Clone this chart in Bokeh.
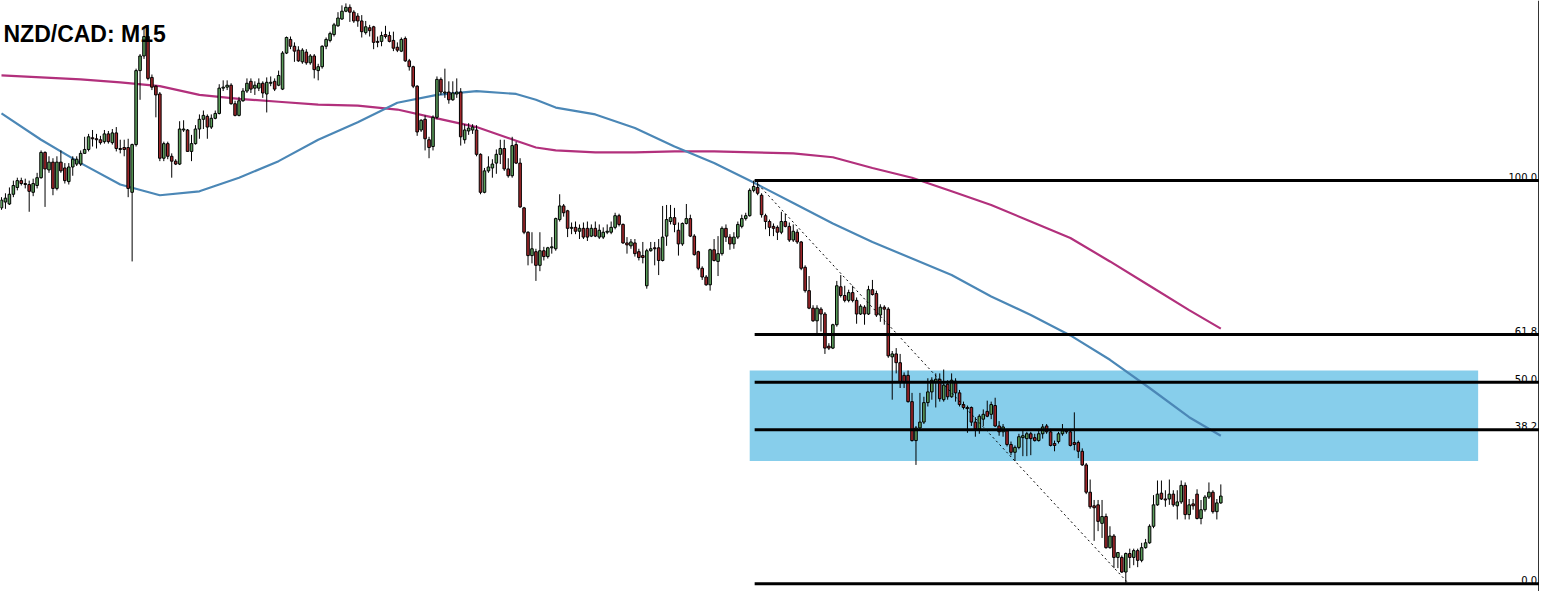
from bokeh.plotting import figure
from bokeh.models import Range1d, ColumnDataSource
from bokeh.core.properties import value
from bokeh.embed import file_html
from bokeh.resources import INLINE

# NZD/CAD M15 candles, prices in points (1 point = 0.2 pip above 0.90800)
opens = [
    387, 393, 391, 401, 408, 415, 412, 411, 403, 410,
    418, 444, 426, 434, 407, 434, 428, 414, 429, 432,
    432, 443, 447, 459, 458, 457, 455, 463, 454, 464,
    448, 449, 449, 403, 452, 528, 543, 563, 521, 512,
    504, 438, 453, 440, 435, 432, 467, 467, 445, 453,
    468, 478, 481, 470, 479, 484, 510, 511, 513, 494,
    482, 497, 507, 517, 510, 510, 515, 504, 515, 517,
    513, 509, 546, 560, 553, 549, 537, 547, 536, 543,
    528, 532, 553, 559, 565, 574, 581, 589, 593, 588,
    584, 579, 567, 572, 573, 558, 558, 565, 564, 559,
    552, 548, 561, 538, 532, 512, 467, 478, 457, 450,
    480, 519, 505, 506, 498, 504, 506, 457, 466, 467,
    467, 442, 403, 425, 428, 433, 442, 448, 427, 420,
    452, 433, 387, 362, 338, 342, 328, 343, 337, 346,
    345, 375, 389, 384, 366, 367, 363, 366, 366, 358,
    366, 357, 357, 362, 362, 367, 379, 370, 351, 348,
    351, 342, 338, 307, 343, 346, 346, 333, 358, 373,
    377, 364, 350, 371, 376, 358, 342, 325, 316, 308,
    344, 332, 340, 366, 357, 350, 357, 368, 376, 379,
    405, 408, 400, 379, 373, 368, 367, 362, 373, 368,
    354, 362, 352, 326, 302, 284, 271, 283, 278, 245,
    243, 267, 306, 297, 292, 300, 292, 278, 285, 278,
    303, 299, 277, 285, 283, 234, 237, 228, 215, 215,
    188, 148, 161, 167, 187, 198, 208, 211, 190, 206,
    193, 209, 197, 185, 182, 182, 167, 160, 170, 178,
    175, 184, 163, 157, 158, 144, 136, 141, 151, 150,
    155, 151, 148, 155, 163, 157, 145, 147, 155, 158,
    157, 146, 146, 137, 123, 95, 81, 82, 63, 70,
    38, 50, 28, 28, 13, 32, 28, 35, 25, 38,
    43, 60, 82, 94, 88, 88, 93, 81, 85, 102,
    72, 83, 93, 68, 77, 90, 95, 75, 84,
]
highs = [
    398, 402, 408, 415, 418, 418, 417, 415, 417, 423,
    446, 445, 440, 438, 440, 446, 433, 433, 440, 440,
    446, 460, 463, 467, 463, 461, 467, 466, 468, 470,
    457, 457, 458, 453, 530, 545, 573, 572, 524, 513,
    506, 455, 455, 443, 437, 476, 477, 468, 462, 472,
    483, 487, 483, 483, 487, 514, 518, 518, 515, 497,
    501, 510, 520, 520, 517, 520, 517, 521, 522, 520,
    528, 548, 563, 563, 557, 553, 551, 550, 545, 545,
    535, 554, 562, 568, 577, 588, 595, 597, 596, 590,
    587, 585, 579, 575, 574, 563, 568, 574, 568, 568,
    557, 562, 563, 540, 533, 513, 478, 482, 460, 482,
    522, 521, 530, 517, 517, 520, 510, 473, 474, 473,
    472, 443, 428, 440, 437, 447, 457, 457, 438, 460,
    455, 438, 388, 363, 362, 345, 362, 347, 347, 357,
    377, 401, 391, 385, 372, 373, 370, 372, 373, 370,
    373, 370, 367, 370, 373, 382, 381, 371, 357, 355,
    355, 345, 352, 345, 352, 352, 355, 389, 390, 390,
    387, 372, 372, 391, 380, 360, 343, 327, 318, 345,
    355, 358, 368, 370, 360, 362, 373, 380, 382, 407,
    415, 415, 402, 381, 375, 371, 369, 383, 381, 372,
    370, 365, 353, 328, 317, 287, 287, 285, 280, 248,
    268, 312, 318, 307, 303, 307, 295, 288, 287, 307,
    313, 302, 288, 287, 285, 240, 243, 237, 218, 220,
    197, 163, 197, 193, 212, 213, 217, 217, 221, 210,
    217, 212, 200, 188, 184, 183, 172, 175, 180, 189,
    188, 192, 168, 165, 160, 147, 143, 155, 158, 157,
    157, 155, 160, 165, 165, 160, 148, 157, 165, 160,
    160, 177, 148, 140, 125, 108, 87, 87, 87, 73,
    60, 52, 33, 30, 33, 37, 37, 37, 43, 47,
    62, 92, 107, 107, 97, 108, 97, 97, 107, 105,
    88, 88, 98, 87, 92, 105, 97, 88, 103,
]
lows = [
    385, 386, 390, 398, 405, 410, 407, 383, 399, 407,
    417, 388, 423, 400, 405, 423, 412, 411, 420, 430,
    430, 443, 445, 450, 448, 452, 453, 453, 452, 445,
    443, 440, 398, 332, 450, 498, 540, 518, 508, 480,
    435, 435, 437, 418, 431, 431, 465, 445, 435, 452,
    458, 468, 458, 468, 478, 483, 507, 508, 493, 481,
    481, 496, 505, 505, 503, 507, 500, 485, 512, 507,
    512, 508, 545, 550, 537, 537, 535, 534, 534, 520,
    518, 530, 550, 557, 563, 573, 580, 588, 578, 577,
    573, 562, 565, 563, 550, 552, 553, 561, 557, 548,
    547, 547, 537, 528, 510, 461, 465, 446, 438, 446,
    478, 503, 500, 494, 497, 500, 451, 453, 462, 463,
    440, 401, 402, 423, 418, 422, 432, 425, 418, 418,
    432, 387, 360, 328, 330, 312, 322, 333, 335, 340,
    343, 373, 378, 357, 360, 360, 355, 355, 353, 357,
    357, 355, 355, 360, 360, 365, 368, 350, 340, 345,
    337, 333, 330, 304, 342, 328, 318, 332, 348, 370,
    362, 338, 348, 370, 357, 338, 323, 313, 307, 302,
    332, 317, 338, 352, 344, 345, 355, 366, 374, 378,
    403, 400, 377, 365, 358, 358, 354, 360, 367, 352,
    352, 350, 323, 300, 283, 270, 258, 260, 237, 241,
    242, 265, 295, 290, 290, 290, 268, 277, 267, 277,
    297, 275, 270, 267, 233, 190, 217, 202, 202, 187,
    147, 123, 158, 165, 183, 190, 182, 188, 188, 190,
    192, 188, 183, 180, 156, 163, 152, 155, 163, 172,
    170, 162, 153, 152, 142, 133, 127, 139, 132, 132,
    133, 147, 147, 150, 155, 142, 137, 145, 153, 155,
    142, 138, 130, 122, 93, 78, 45, 55, 48, 37,
    37, 17, 17, 12, 1, 17, 20, 18, 23, 37,
    42, 58, 81, 87, 80, 82, 80, 67, 83, 67,
    67, 77, 67, 62, 75, 88, 73, 67, 83,
]
closes = [
    395, 397, 401, 410, 415, 412, 411, 404, 412, 418,
    444, 427, 434, 407, 434, 425, 415, 429, 437, 437,
    443, 447, 460, 458, 457, 454, 463, 455, 464, 448,
    447, 447, 407, 452, 528, 543, 563, 520, 511, 503,
    438, 453, 440, 435, 432, 468, 468, 445, 453, 468,
    478, 482, 470, 479, 484, 510, 511, 513, 494, 482,
    497, 507, 515, 509, 513, 515, 505, 516, 516, 509,
    523, 546, 562, 553, 548, 538, 549, 536, 543, 529,
    532, 553, 560, 566, 575, 582, 589, 593, 588, 579,
    579, 568, 573, 569, 557, 557, 564, 563, 558, 551,
    549, 560, 538, 532, 512, 465, 477, 458, 449, 480,
    519, 506, 505, 498, 505, 506, 460, 467, 469, 470,
    442, 403, 425, 429, 432, 442, 448, 427, 420, 451,
    433, 388, 362, 338, 345, 328, 343, 337, 346, 347,
    376, 389, 382, 366, 367, 363, 366, 357, 357, 366,
    358, 364, 362, 363, 367, 379, 370, 351, 349, 352,
    340, 336, 336, 343, 345, 345, 333, 357, 375, 377,
    370, 350, 371, 376, 358, 339, 325, 316, 308, 344,
    333, 340, 366, 357, 350, 357, 370, 376, 379, 405,
    409, 402, 380, 373, 367, 366, 362, 373, 368, 354,
    363, 352, 325, 302, 284, 271, 284, 278, 243, 243,
    267, 307, 297, 292, 300, 292, 278, 286, 278, 303,
    298, 277, 285, 283, 235, 237, 228, 208, 208, 188,
    148, 161, 167, 187, 198, 210, 211, 191, 205, 193,
    210, 197, 185, 182, 181, 167, 160, 173, 175, 173,
    185, 163, 157, 162, 144, 136, 141, 152, 153, 155,
    150, 148, 155, 162, 157, 143, 143, 155, 158, 157,
    143, 144, 137, 123, 95, 80, 79, 65, 70, 38,
    50, 28, 33, 13, 32, 28, 35, 25, 38, 43,
    60, 82, 93, 88, 87, 93, 82, 85, 102, 72,
    82, 81, 68, 77, 90, 95, 75, 84, 91,
]

# Moving averages (at these candle indices)
ma_idx = [0, 10, 20, 30, 40, 50, 60, 70, 80, 90, 100, 110, 120, 130, 135,
          140, 150, 160, 170, 180, 190, 200, 210, 220, 230, 240, 250, 260,
          270, 280, 290, 300, 308]
ma_fast = [484, 457, 433, 411, 400, 404, 418, 435, 457, 475, 495, 503, 507,
           504, 498, 490, 483, 469, 450, 433, 413, 392, 371, 352, 335, 318,
           296, 277, 256, 231, 202, 172, 153]
ma_slow = [523, 521, 519, 516, 512, 503, 499, 496, 493, 492, 488, 479, 470,
           456, 449, 446, 444, 444, 445, 445, 444, 443, 439, 428, 418, 404,
           390, 373, 356, 332, 307, 282, 263]

# Fibonacci retracement
fib_ratios = [1.0, 0.618, 0.5, 0.382, 0.0]
fib_labels = ["100.0", "61.8", "50.0", "38.2", "0.0"]
swing_hi_idx = 190
swing_lo_idx = 284

# Highlighted zone (price points)
zone_top = 220
zone_bottom = 127

GREEN = "#5b9e5b"
RED = "#a3272b"

n = len(closes)
xs = list(range(n))
tops, bots, cols = [], [], []
for o, c in zip(opens, closes):
    lo_b, hi_b = min(o, c), max(o, c)
    if hi_b - lo_b < 1:
        hi_b = lo_b + 1
    tops.append(hi_b)
    bots.append(lo_b)
    cols.append(GREEN if c >= o else RED)
hs = [max(h, t) for h, t in zip(highs, tops)]
ls = [min(l, b) for l, b in zip(lows, bots)]

src = ColumnDataSource(dict(x=xs, top=tops, bottom=bots, high=hs, low=ls, color=cols))

p = figure(width=1539, height=591, x_range=Range1d(-0.25, 388.5),
           y_range=Range1d(-7, 600), output_backend="svg",
           toolbar_location=None, min_border=0)
p.axis.visible = False
p.xgrid.visible = False
p.ygrid.visible = False
p.outline_line_color = None
p.background_fill_color = "white"
p.border_fill_color = "white"

# zone
p.quad(left=[189.0], right=[373.0], bottom=[zone_bottom], top=[zone_top],
       fill_color="#87ceeb", line_color=None)

# moving averages
p.line(ma_idx, ma_slow, line_color="#b2307c", line_width=2.2)
p.line(ma_idx, ma_fast, line_color="#4b87b6", line_width=2.2)

# candles
p.segment(x0="x", y0="low", x1="x", y1="high", source=src,
          line_color="black", line_width=1)
p.vbar(x="x", width=0.65, top="top", bottom="bottom", source=src,
       fill_color="color", line_color="black", line_width=1)

# fibonacci
hi = highs[swing_hi_idx]
lo = lows[swing_lo_idx]
levels = [lo + r * (hi - lo) for r in fib_ratios]
x_start = swing_hi_idx + 0.25
p.segment(x0=[x_start] * len(levels), y0=levels, x1=[392] * len(levels), y1=levels,
          line_color="black", line_width=3)
p.line([x_start, swing_lo_idx + 0.75], [hi, lo], line_color="black",
       line_width=1, line_dash="2 3")
p.text(x=[387.9] * len(levels), y=[lv + 3.5 for lv in levels], text=fib_labels,
       text_align="right", text_baseline="alphabetic",
       text_font=value("DejaVu Sans"), text_font_size="10px", text_color="black")

# right frame edge
p.segment(x0=[388.3], y0=[-7], x1=[388.3], y1=[600], line_color="black", line_width=1)

# title
p.text(x=[0.5], y=[566], text=["NZD/CAD: M15"], text_align="left",
       text_baseline="alphabetic", text_font=value("Liberation Sans"),
       text_font_style="bold", text_font_size="23px", text_color="black")

open("out.html", "w").write(file_html(p, INLINE))
